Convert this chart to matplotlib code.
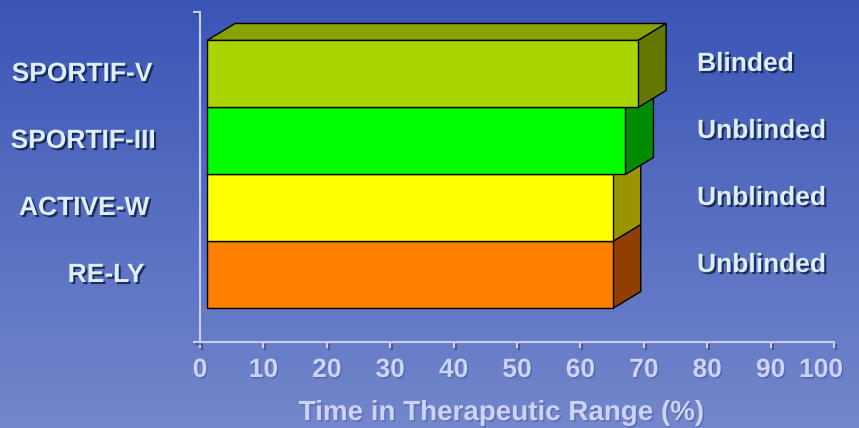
import numpy as np
import matplotlib
matplotlib.use('Agg')
import matplotlib.pyplot as plt
import matplotlib.patheffects as pe
from matplotlib.patches import Polygon, Rectangle
from matplotlib.transforms import ScaledTranslation, blended_transform_factory

# data
trials = ['SPORTIF-V', 'SPORTIF-III', 'ACTIVE-W', 'RE-LY']
ttr = [68, 66, 64, 64]
blinding = ['Blinded', 'Unblinded', 'Unblinded', 'Unblinded']
xticks = [0, 10, 20, 30, 40, 50, 60, 70, 80, 90, 100]

# colours: front, top, side
front_cols = ['#aad400', '#00ff00', '#ffff00', '#ff7f00']
top_cols = ['#86a300', '#00b800', '#b8b800', '#b85c00']
side_cols = ['#627800', '#008a00', '#999400', '#903f00']

plt.rcParams['font.family'] = ['Liberation Sans', 'DejaVu Sans']
plt.rcParams['font.weight'] = 'bold'

W, H = 859, 428
fig = plt.figure(figsize=(W / 100, H / 100), dpi=100)

# gradient background
bg = fig.add_axes([0, 0, 1, 1])
top = np.array([58, 85, 181]) / 255
bot = np.array([116, 135, 204]) / 255
t = np.linspace(0, 1, 256)[:, None]
grad = top[None, :] * (1 - t) + bot[None, :] * t
bg.imshow(grad[:, None, :], aspect='auto', extent=[0, 1, 0, 1])
bg.axis('off')

ax = fig.add_axes([200 / W, 86 / H, 634 / W, 330 / H])
ax.patch.set_visible(False)
ax.set_xlim(0, 100)
ax.set_ylim(-1.0, 3.925)

px_x = ax.bbox.width / 100          # pixels per x unit
px_y = ax.bbox.height / 4.925       # pixels per y unit
x0 = 7 / px_x                        # front face sits off the wall
ddx = 28 / px_x                      # depth
ddy = 17 / px_y

ypos = np.arange(len(trials))[::-1]
for i in range(len(trials) - 1, -1, -1):
    y = ypos[i]
    v = ttr[i]
    topface = Polygon([(x0, y + .5), (x0 + v, y + .5), (x0 + v + ddx, y + .5 + ddy),
                       (x0 + ddx, y + .5 + ddy)], closed=True, fc=top_cols[i],
                      ec='black', lw=1, clip_on=False)
    side = Polygon([(x0 + v, y - .5), (x0 + v + ddx, y - .5 + ddy),
                    (x0 + v + ddx, y + .5 + ddy), (x0 + v, y + .5)], closed=True,
                   fc=side_cols[i], ec='black', lw=1, clip_on=False)
    front = Rectangle((x0, y - .5), v, 1, fc=front_cols[i], ec='black', lw=1, clip_on=False)
    ax.add_patch(topface)
    ax.add_patch(side)
    ax.add_patch(front)

axis_col = '#c8d0f2'
shadow = [pe.SimplePatchShadow(offset=(1.5, -1.5), shadow_rgbFace='#2a3a80', alpha=0.6), pe.Normal()]
line_shadow = [pe.SimpleLineShadow(offset=(1.5, -1.5), shadow_color='#2a3a80', alpha=0.6), pe.Normal()]

for s in ['top', 'right']:
    ax.spines[s].set_visible(False)
for s in ['left', 'bottom']:
    ax.spines[s].set_color(axis_col)
    ax.spines[s].set_linewidth(1.5)
    ax.spines[s].set_path_effects(shadow)

ax.set_xticks(xticks)
ax.set_xticklabels([str(v) for v in xticks])
ax.set_yticks([-1.0, 3.925])
ax.set_yticklabels([])
ax.tick_params(axis='x', colors=axis_col, labelsize=19, length=4.5, width=1.5, pad=7)
ax.tick_params(axis='y', colors=axis_col, length=5, width=1.5)
for tk in ax.xaxis.get_major_ticks() + ax.yaxis.get_major_ticks():
    tk.tick1line.set_path_effects(line_shadow)
xlabels = ax.get_xticklabels()
for lbl in xlabels:
    lbl.set_fontweight('bold')
    lbl.set_color('#cdd3f5')
    lbl.set_path_effects([pe.SimplePatchShadow(offset=(1, -1), shadow_rgbFace='#2a3a80', alpha=0.35), pe.Normal()])
# last label is pulled in from the edge, as in the original slide
xlabels[-1].set_transform(xlabels[-1].get_transform() + ScaledTranslation(-0.13, 0, fig.dpi_scale_trans))

ax.set_xlabel('Time in Therapeutic Range (%)', fontsize=20, fontweight='bold', color='#cdd3f5')
ax.xaxis.set_label_coords(0.475, -0.176)
ax.xaxis.label.set_path_effects([pe.SimplePatchShadow(offset=(1, -1), shadow_rgbFace='#2a3a80', alpha=0.35), pe.Normal()])

txt_col = '#dcefff'
txt_shadow = [pe.SimplePatchShadow(offset=(1.5, -1.5), shadow_rgbFace='#101a40', alpha=0.8), pe.Normal()]

# trial names on the left
label_x = [82, 83, 84, 106]
name_tr = blended_transform_factory(fig.transFigure, ax.transData)
for i, name in enumerate(trials):
    ax.text(label_x[i] / W, ypos[i], name, transform=name_tr + ScaledTranslation(0, 0.0, fig.dpi_scale_trans),
            ha='center', va='center', fontsize=19, fontweight='bold', color=txt_col,
            path_effects=txt_shadow, clip_on=False)

# blinding on the right
for i, b in enumerate(blinding):
    ax.text(78.4, ypos[i], b, transform=ax.transData + ScaledTranslation(0, 0.1, fig.dpi_scale_trans),
            ha='left', va='center', fontsize=19, fontweight='bold', color=txt_col,
            path_effects=txt_shadow, clip_on=False)

fig.savefig('out.png', dpi=100)
